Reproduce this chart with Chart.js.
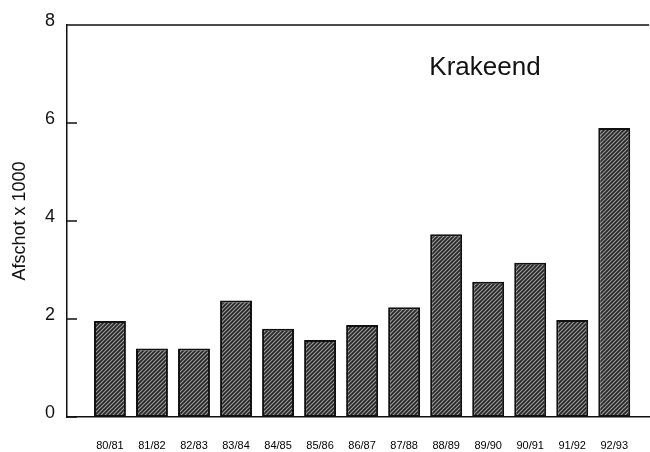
<!DOCTYPE html>
<html>
<head>
<meta charset="utf-8">
<script src="https://cdn.jsdelivr.net/npm/chart.js@4"></script>
<style>
    html, body { margin: 0; padding: 0; background: #fff; }
    #wrap { width: 650px; height: 452px; position: relative; }
</style>
</head>
<body>
<div id="wrap"><canvas id="chart"></canvas></div>
<script>
// hunting seasons and numbers shot (x 1000)
const seasons = ['80/81', '81/82', '82/83', '83/84', '84/85', '85/86', '86/87',
                 '87/88', '88/89', '89/90', '90/91', '91/92', '92/93'];
const afschot = [1.96, 1.40, 1.40, 2.38, 1.80, 1.57, 1.88, 2.24, 3.73, 2.76, 3.15, 1.98, 5.90];
const yTicks = [0, 2, 4, 6, 8];
const speciesName = 'Krakeend';

function makeHatch() {
    const c = document.createElement('canvas');
    c.width = 4;
    c.height = 4;
    const g = c.getContext('2d');
    g.fillStyle = '#262626';
    g.fillRect(0, 0, 4, 4);
    g.strokeStyle = '#9a9a9a';
    g.lineWidth = 1.2;
    g.beginPath();
    g.moveTo(-1, 5); g.lineTo(5, -1);
    g.moveTo(-1, 1); g.lineTo(1, -1);
    g.moveTo(3, 5); g.lineTo(5, 3);
    g.stroke();
    return g.createPattern(c, 'repeat');
}

const frame = {
    id: 'frame',
    afterDraw(chart) {
        const { ctx, chartArea: a, scales: { y } } = chart;
        ctx.save();
        ctx.strokeStyle = '#111';
        ctx.lineWidth = 1.5;
        ctx.beginPath();
        ctx.moveTo(a.left, a.top);
        ctx.lineTo(a.right, a.top);
        y.ticks.forEach(t => {
            const py = y.getPixelForValue(t.value);
            ctx.moveTo(a.left, py);
            ctx.lineTo(a.left + 10, py);
        });
        ctx.stroke();
        ctx.fillStyle = '#111';
        ctx.font = '26px "Liberation Sans", Arial, sans-serif';
        ctx.textAlign = 'center';
        ctx.textBaseline = 'alphabetic';
        ctx.fillText(speciesName, a.left + 418, a.top + 50);
        ctx.restore();
    }
};

new Chart(document.getElementById('chart'), {
    type: 'bar',
    data: {
        datasets: [{
            data: afschot.map((v, i) => ({ x: i, y: v })),
            backgroundColor: makeHatch(),
            borderColor: '#111',
            borderWidth: 2,
            borderSkipped: false,
            barPercentage: 1,
            categoryPercentage: 0.76
        }]
    },
    options: {
        responsive: true,
        maintainAspectRatio: false,
        animation: false,
        layout: { padding: { left: 5, top: 25, right: 0, bottom: 0 } },
        plugins: { legend: { display: false }, tooltip: { enabled: false } },
        scales: {
            x: {
                type: 'linear',
                offset: false,
                min: -1.022,
                max: 12.832,
                grid: { display: false, drawTicks: false },
                border: { display: true, color: '#111', width: 1.5 },
                afterBuildTicks: s => { s.ticks = seasons.map((_, i) => ({ value: i })); },
                afterFit: s => { s.height = 35; },
                ticks: {
                    autoSkip: false,
                    maxRotation: 0,
                    padding: 22,
                    color: '#000',
                    font: { family: '"Liberation Sans", Arial, sans-serif', size: 11 },
                    callback: v => seasons[v]
                }
            },
            y: {
                min: 0,
                max: 8,
                afterBuildTicks: s => { s.ticks = yTicks.map(v => ({ value: v })); },
                afterFit: s => { s.width = 62; },
                grid: { display: false, drawTicks: false },
                border: { display: true, color: '#111', width: 1.5 },
                ticks: {
                    padding: 12,
                    labelOffset: -4,
                    color: '#111',
                    font: { family: '"Liberation Sans", Arial, sans-serif', size: 18 }
                },
                title: {
                    display: true,
                    text: 'Afschot x 1000',
                    color: '#111',
                    padding: { top: 4, bottom: 14 },
                    font: { family: '"Liberation Sans", Arial, sans-serif', size: 18 }
                }
            }
        }
    },
    plugins: [frame]
});
</script>
</body>
</html>
